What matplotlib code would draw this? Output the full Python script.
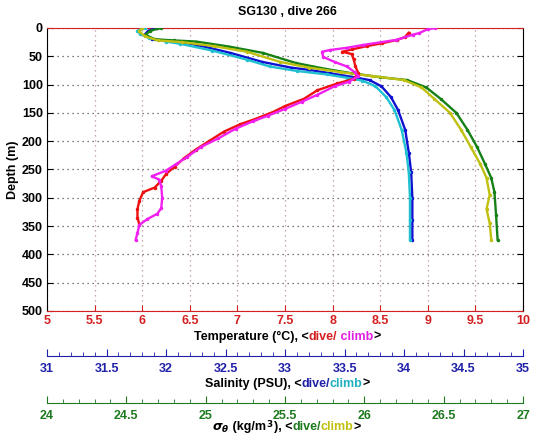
"""
Seaglider SG130 dive 266: temperature, salinity and sigma-theta profiles
on one depth axis, with the three x scales stacked under the plot.
"""

import matplotlib
matplotlib.use("Agg")
import matplotlib.pyplot as plt
from matplotlib.offsetbox import TextArea, HPacker, AnnotationBbox
from matplotlib.ticker import MultipleLocator

plt.rcParams["font.family"] = ["Liberation Sans", "DejaVu Sans"]
plt.rcParams["font.weight"] = "bold"
plt.rcParams["mathtext.fontset"] = "dejavusans"

# ── Data ─────────────────────────────────────────────────────────────────────

# temperature (°C)
temp_dive_d = [8, 16, 21, 27, 32, 38, 42, 46, 55, 68, 80, 90, 98, 110, 125, 138,
               148, 160, 170, 183, 200, 215, 230, 245, 258, 270, 282, 290, 305,
               320, 335, 347]
temp_dive = [8.80, 8.76, 8.68, 8.52, 8.36, 8.20, 8.10, 8.20, 8.22, 8.24, 8.27,
             8.22, 8.05, 7.84, 7.70, 7.50, 7.38, 7.20, 7.03, 6.86, 6.70, 6.56,
             6.44, 6.34, 6.25, 6.20, 6.13, 6.01, 5.97, 5.95, 5.95, 5.97]

temp_climb_d = [0, 2, 9, 12, 21, 30, 35, 39, 42, 51, 60, 68, 78, 85, 95, 103,
                118, 130, 143, 155, 165, 178, 195, 210, 228, 240, 252, 262, 268,
                280, 300, 318, 328, 338, 348, 362, 375]
temp_climb = [9.08, 9.00, 8.91, 8.84, 8.67, 8.32, 8.15, 7.97, 7.89, 7.90, 8.02,
              8.15, 8.23, 8.27, 8.17, 8.02, 7.84, 7.68, 7.50, 7.32, 7.16, 6.98,
              6.80, 6.62, 6.47, 6.36, 6.25, 6.10, 6.18, 6.20, 6.21, 6.20, 6.16,
              6.05, 5.97, 5.95, 5.93]

# salinity (PSU)
sal_dive_d = [0, 5, 12, 20, 24, 30, 44, 60, 70, 74, 80, 86, 92, 103, 122, 145,
              180, 220, 255, 300, 340, 375]
sal_dive = [31.92, 31.85, 31.82, 31.88, 32.10, 32.26, 32.54, 32.81, 33.05,
            33.20, 33.38, 33.55, 33.71, 33.81, 33.89, 33.95, 34.01, 34.04,
            34.06, 34.07, 34.07, 34.07]

sal_climb_d = [0, 5, 10, 18, 24, 28, 40, 56, 68, 76, 82, 88, 93, 103, 122, 145,
               180, 220, 255, 300, 340, 375]
sal_climb = [31.82, 31.76, 31.78, 31.86, 32.00, 32.12, 32.39, 32.68, 32.87,
             33.10, 33.35, 33.52, 33.65, 33.76, 33.85, 33.92, 33.98, 34.02,
             34.04, 34.05, 34.05, 34.05]

# sigma-theta (kg/m3)
sig_dive_d = [0, 5, 12, 20, 22, 24, 33, 44, 62, 72, 80, 87, 92, 105, 125, 150,
              180, 210, 240, 265, 290, 330, 375]
sig_dive = [24.72, 24.65, 24.62, 24.68, 24.80, 24.94, 25.15, 25.36, 25.57,
            25.75, 25.92, 26.10, 26.27, 26.39, 26.48, 26.58, 26.65, 26.71,
            26.76, 26.80, 26.82, 26.83, 26.84]

sig_climb_d = [0, 6, 15, 22, 25, 32, 42, 60, 70, 78, 85, 92, 105, 125, 150,
               180, 210, 240, 265, 295, 320, 345, 375]
sig_climb = [24.60, 24.58, 24.62, 24.70, 24.85, 25.05, 25.26, 25.47, 25.65,
             25.85, 26.05, 26.25, 26.36, 26.44, 26.54, 26.61, 26.67, 26.73,
             26.77, 26.79, 26.77, 26.79, 26.80]

TITLE = "SG130 , dive 266"

RED_AX   = "#d42020"
BLUE_AX  = "#2020a8"
GREEN_AX = "#1e7a1e"

C_TDIVE, C_TCLIMB = "#ee1010", "#f020f0"
C_SDIVE, C_SCLIMB = "#1010d0", "#20c0d0"
C_GDIVE, C_GCLIMB = "#158015", "#c0c010"


# ── Helpers ──────────────────────────────────────────────────────────────────

def profile(ax, x, d, color):
    ax.plot(x, d, color=color, lw=1.7, marker=".", ms=3,
            solid_joinstyle="round", solid_capstyle="round")


def hidden_twin(ax, lims):
    t = ax.twiny()
    t.set_xlim(*lims)
    t.set_axis_off()
    return t


def scale_axis(fig, bottom, lims, color):
    """Thin axis holding only a coloured bottom line with upward ticks."""
    a = fig.add_axes([0.0879, bottom, 0.8897, 0.0001])
    a.set_xlim(*lims)
    a.set_yticks([])
    for s in ("top", "left", "right"):
        a.spines[s].set_visible(False)
    a.spines["bottom"].set_color(color)
    a.patch.set_visible(False)
    a.xaxis.set_major_locator(MultipleLocator(0.5))
    a.xaxis.set_minor_locator(MultipleLocator(0.1))
    a.tick_params(axis="x", which="both", direction="in", colors=color,
                  labelsize=9, pad=5)
    a.tick_params(axis="x", which="major", length=5)
    a.tick_params(axis="x", which="minor", length=3)
    a.xaxis.set_major_formatter(plt.FuncFormatter(lambda v, p: f"{v:g}"))
    return a


def colored_label(fig, parts, x, y):
    boxes = [TextArea(t, textprops=dict(color=c, fontsize=9, fontweight="bold"))
             for t, c in parts]
    pack = HPacker(children=boxes, align="baseline", pad=0, sep=0)
    ab = AnnotationBbox(pack, (x, y), xycoords="figure fraction",
                        frameon=False, box_alignment=(0.5, 0.5))
    fig.add_artist(ab)


# ── Figure ───────────────────────────────────────────────────────────────────

fig = plt.figure(figsize=(5.35, 4.42), dpi=100)
ax = fig.add_axes([0.0879, 0.2964, 0.8897, 0.6403])

ax.set_xlim(5, 10)
ax.set_ylim(500, 0)
ax.xaxis.set_major_locator(MultipleLocator(0.5))
ax.yaxis.set_major_locator(MultipleLocator(50))
ax.xaxis.set_major_formatter(plt.FuncFormatter(lambda v, p: f"{v:g}"))
ax.tick_params(axis="x", direction="in", colors=RED_AX, labelsize=9,
               top=True, length=4, pad=3)
ax.tick_params(axis="y", direction="in", colors="black", labelsize=9,
               right=True, length=4, pad=3)
ax.spines["top"].set_color(RED_AX)
ax.spines["bottom"].set_color(RED_AX)
ax.xaxis.grid(True, color="#b89090", ls=(0, (1, 3)), lw=0.9)
ax.yaxis.grid(True, color="#505050", ls=(0, (1, 3)), lw=0.9)
ax.set_axisbelow(True)
ax.set_ylabel("Depth (m)", fontsize=9, fontweight="bold", labelpad=2)
fig.text(0.537, 1 - 12 / 442, TITLE, ha="center", va="center",
         fontsize=9, fontweight="bold")

# salinity and density share the depth axis through hidden twins
ax_s = hidden_twin(ax, (31, 35))
ax_g = hidden_twin(ax, (24, 27))
ax_t = hidden_twin(ax, (5, 10))

profile(ax_s, sal_dive, sal_dive_d, C_SDIVE)
profile(ax_s, sal_climb, sal_climb_d, C_SCLIMB)
profile(ax_g, sig_dive, sig_dive_d, C_GDIVE)
profile(ax_g, sig_climb, sig_climb_d, C_GCLIMB)
profile(ax_t, temp_dive, temp_dive_d, C_TDIVE)
profile(ax_t, temp_climb, temp_climb_d, C_TCLIMB)

scale_axis(fig, 1 - 356 / 442, (31, 35), BLUE_AX)
scale_axis(fig, 1 - 403 / 442, (24, 27), GREEN_AX)

colored_label(fig, [("Temperature (°C), <", "black"), ("dive/", RED_AX),
                    (" climb", "#e020e0"), (">", "black")],
              0.537, 1 - 337 / 442)
colored_label(fig, [("Salinity (PSU), <", "black"), ("dive", BLUE_AX),
                    ("/", BLUE_AX), ("climb", "#20b0c0"), (">", "black")],
              0.537, 1 - 384 / 442)
colored_label(fig, [(r"$\sigma_\theta$", "black"), (" (kg/m", "black"),
                    ("$^3$", "black"), ("), <", "black"), ("dive/", GREEN_AX),
                    ("climb", "#c0c010"), (">", "black")],
              0.535, 1 - 428 / 442)

fig.savefig("out.png", dpi=100)
